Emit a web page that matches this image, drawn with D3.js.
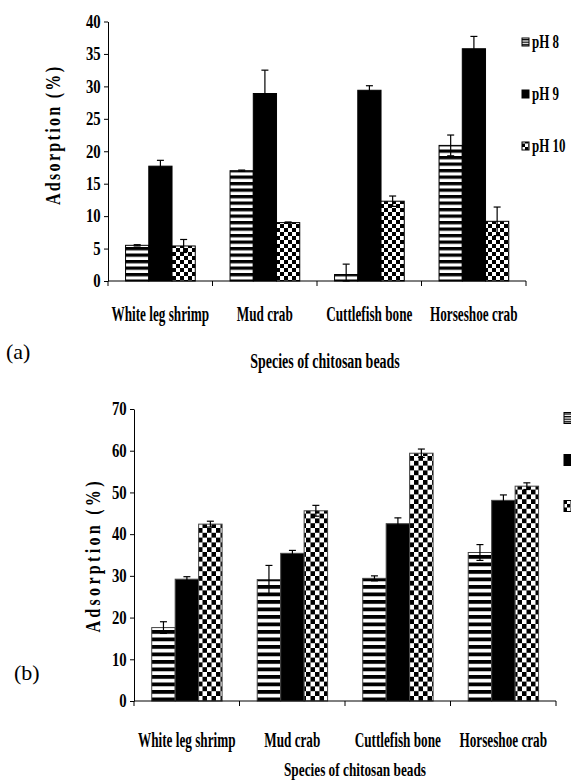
<!DOCTYPE html>
<html>
<head>
<meta charset="utf-8">
<script src="https://cdn.jsdelivr.net/npm/d3@7"></script>
<style>
  body { margin: 0; background: #fff; }
  svg { display: block; }
  text { font-family: "Liberation Serif", "Times New Roman", serif; fill: #000; }
</style>
</head>
<body>
<svg id="chart" width="571" height="783"></svg>
<script>
// categories and series
const species = ["White leg shrimp", "Mud crab", "Cuttlefish bone", "Horseshoe crab"];
const phLevels = ["pH 8", "pH 9", "pH 10"];

// panel (a) values and errors, one array per pH, in species order
const aPH8 = [5.5, 17.0, 1.0, 20.9];
const aPH9 = [17.7, 28.9, 29.4, 35.8];
const aPH10 = [5.4, 9.0, 12.3, 9.2];
const aErr8 = [0.1, 0.1, 1.6, 1.6];
const aErr9 = [0.9, 3.6, 0.7, 1.9];
const aErr10 = [1.0, 0.1, 0.8, 2.2];
const aTicks = [0, 5, 10, 15, 20, 25, 30, 35, 40];

// panel (b)
const bPH8 = [17.6, 29.1, 29.4, 35.6];
const bPH9 = [29.2, 35.4, 42.5, 48.1];
const bPH10 = [42.4, 45.6, 59.4, 51.5];
const bErr8 = [1.4, 3.4, 0.6, 1.9];
const bErr9 = [0.6, 0.7, 1.4, 1.3];
const bErr10 = [0.7, 1.3, 1.0, 0.8];
const bTicks = [0, 10, 20, 30, 40, 50, 60, 70];

const svg = d3.select("#chart");
const defs = svg.append("defs");

// fill patterns: horizontal stripes and checkerboard
function stripePattern(id, h, black) {
    const p = defs.append("pattern").attr("id", id)
        .attr("patternUnits", "userSpaceOnUse").attr("width", 10).attr("height", h);
    p.append("rect").attr("width", 10).attr("height", h).attr("fill", "#fff");
    p.append("rect").attr("width", 10).attr("height", black).attr("fill", "#000");
}
function checkPattern(id, w, h) {
    const p = defs.append("pattern").attr("id", id)
        .attr("patternUnits", "userSpaceOnUse").attr("width", w * 2).attr("height", h * 2);
    p.append("rect").attr("width", w * 2).attr("height", h * 2).attr("fill", "#fff");
    p.append("rect").attr("width", w).attr("height", h).attr("fill", "#000");
    p.append("rect").attr("x", w).attr("y", h).attr("width", w).attr("height", h).attr("fill", "#000");
}
stripePattern("a-stripe", 6.5, 3.3);
checkPattern("a-check", 4, 4);
stripePattern("b-stripe", 7.5, 3.8);
checkPattern("b-check", 4.5, 4.8);
stripePattern("leg-stripe", 2.6, 1.3);
checkPattern("leg-check", 3.5, 3.5);

// condensed bold text helper
function label(g, txt, x, y, size, sx, anchor, weight) {
    return g.append("text")
        .attr("transform", `translate(${x},${y}) scale(${sx},1)`)
        .attr("text-anchor", anchor || "middle")
        .style("font-size", size + "px")
        .style("font-weight", weight || "bold")
        .text(txt);
}

function panel(opt) {
    const g = svg.append("g");
    const x = d3.scaleBand().domain(species).range(opt.xr);
    const bw = x.bandwidth();
    const x1 = d3.scaleBand().domain(phLevels).range([bw * 0.168, bw * 0.835]);
    const y = d3.scaleLinear().domain([0, opt.ymax]).range(opt.yr);

    const rows = [];
    species.forEach((s, i) => phLevels.forEach((p, j) =>
        rows.push({ s: s, p: p, v: opt.vals[j][i], e: opt.errs[j][i] })));
    const fills = { "pH 8": `url(#${opt.id}-stripe)`, "pH 9": "#000", "pH 10": `url(#${opt.id}-check)` };

    g.selectAll("rect.bar").data(rows).join("rect")
        .attr("class", "bar")
        .attr("x", d => x(d.s) + x1(d.p))
        .attr("width", x1.bandwidth())
        .attr("y", d => y(d.v))
        .attr("height", d => y(0) - y(d.v))
        .attr("fill", d => fills[d.p])
        .attr("stroke", opt.stroke)
        .attr("stroke-width", 1);

    // error bars with caps at both ends
    const eb = g.selectAll("g.err").data(rows).join("g")
        .attr("class", "err")
        .attr("transform", d => `translate(${x(d.s) + x1(d.p) + x1.bandwidth() / 2},0)`)
        .attr("stroke", "#000").attr("stroke-width", 1.2);
    eb.append("line").attr("y1", d => y(d.v + d.e)).attr("y2", d => y(Math.max(0, d.v - d.e)));
    eb.append("line").attr("x1", -3.5).attr("x2", 3.5).attr("y1", d => y(d.v + d.e)).attr("y2", d => y(d.v + d.e));
    eb.append("line").attr("x1", -3.5).attr("x2", 3.5)
        .attr("y1", d => y(Math.max(0, d.v - d.e))).attr("y2", d => y(Math.max(0, d.v - d.e)));

    // y axis
    const ya = g.append("g").attr("transform", `translate(${opt.xr[0]},0)`)
        .call(d3.axisLeft(y).tickValues(opt.ticks).tickSize(4).tickSizeOuter(0).tickPadding(5));
    ya.selectAll("path, line").attr("stroke", "#000").attr("stroke-width", 1);
    ya.selectAll("text")
        .attr("transform", "scale(0.82,1)")
        .style("font-size", "18px").style("font-weight", "bold")
        .style("font-family", '"Liberation Serif", "Times New Roman", serif')
        .attr("fill", "#000");

    // x axis: baseline with ticks on category boundaries
    const bounds = species.map(s => x(s)).concat([opt.xr[1]]);
    g.append("line").attr("x1", opt.xr[0]).attr("x2", opt.xr[1])
        .attr("y1", y(0)).attr("y2", y(0)).attr("stroke", "#000");
    g.selectAll("line.xtick").data(bounds).join("line")
        .attr("class", "xtick")
        .attr("x1", d => d).attr("x2", d => d)
        .attr("y1", y(0)).attr("y2", y(0) + 5).attr("stroke", "#000");

    species.forEach(s => label(g, s, x(s) + bw / 2, opt.catY, 20, 0.66));
    label(g, "Species of chitosan beads", opt.titleX, opt.titleY, opt.titleSize, 0.7);

    const ts = 0.8;
    g.append("text")
        .attr("transform", `translate(${opt.yTitle[0]},${opt.yTitle[1]}) rotate(-90) scale(${ts},1)`)
        .attr("text-anchor", "middle")
        .attr("dy", "0.35em")
        .attr("textLength", opt.yTitle[2] / ts)
        .attr("lengthAdjust", "spacing")
        .style("font-size", "20px").style("font-weight", "bold")
        .text("Adsorption (%)");

    label(g, opt.tag, opt.tagPos[0], opt.tagPos[1], 22, 1, "start", "normal");

    // legend
    const legFill = { "pH 8": "url(#leg-stripe)", "pH 9": "#000", "pH 10": "url(#leg-check)" };
    phLevels.forEach((p, j) => {
        const cy = opt.legY[j];
        g.append("rect")
            .attr("x", opt.legX).attr("y", cy - opt.legSize[1] / 2)
            .attr("width", opt.legSize[0]).attr("height", opt.legSize[1])
            .attr("fill", legFill[p]).attr("stroke", "#000").attr("stroke-width", 1);
        if (opt.legText) label(g, p, opt.legX + opt.legSize[0] + 3, cy + 6, 18, 0.72, "start");
    });
}

panel({
    id: "a", vals: [aPH8, aPH9, aPH10], errs: [aErr8, aErr9, aErr10],
    ymax: 40, ticks: aTicks, xr: [108, 526], yr: [281, 21.5], stroke: "#000",
    catY: 321, titleX: 325, titleY: 368, titleSize: 20, yTitle: [53, 136, 138],
    tag: "(a)", tagPos: [6, 359],
    legX: 522, legY: [42, 94, 146], legSize: [7, 8], legText: true
});

panel({
    id: "b", vals: [bPH8, bPH9, bPH10], errs: [bErr8, bErr9, bErr10],
    ymax: 70, ticks: bTicks, xr: [134, 556], yr: [701, 409], stroke: "#444",
    catY: 747, titleX: 355, titleY: 776, titleSize: 19, yTitle: [93, 557, 151],
    tag: "(b)", tagPos: [14, 680],
    legX: 564, legY: [418, 460, 506], legSize: [12, 11], legText: false
});
</script>
</body>
</html>
